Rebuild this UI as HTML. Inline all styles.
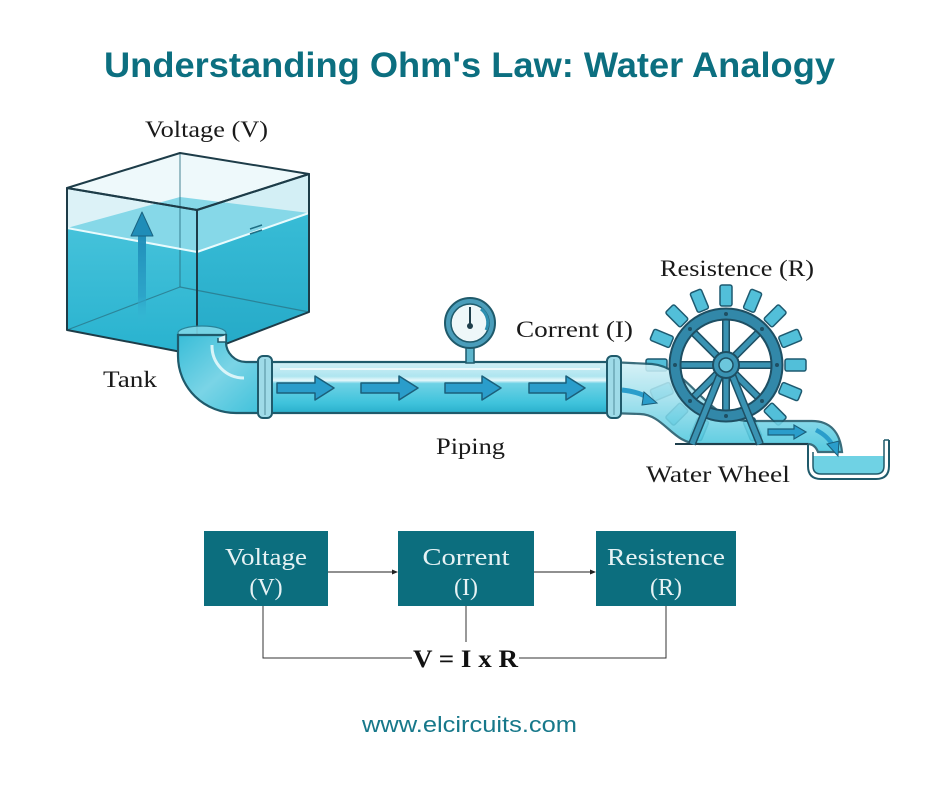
<!DOCTYPE html>
<html><head><meta charset="utf-8"><style>
html,body{margin:0;padding:0;background:#fff;}
svg{display:block;}
</style></head><body>
<svg width="940" height="788" viewBox="0 0 940 788" xmlns="http://www.w3.org/2000/svg">
<defs>
<linearGradient id="pipeG" x1="0" y1="0" x2="0" y2="1">
 <stop offset="0" stop-color="#d2f0f6"/>
 <stop offset="0.28" stop-color="#aee5f0"/>
 <stop offset="0.36" stop-color="#e8f8fb"/>
 <stop offset="0.42" stop-color="#6fd2e5"/>
 <stop offset="0.8" stop-color="#3fc3dc"/>
 <stop offset="1" stop-color="#2ab0cc"/>
</linearGradient>
<linearGradient id="pipeG2" x1="0" y1="0" x2="0" y2="1">
 <stop offset="0" stop-color="#d2f0f6"/>
 <stop offset="0.4" stop-color="#9ee0ed"/>
 <stop offset="1" stop-color="#3fc3dc"/>
</linearGradient>
<linearGradient id="elbowG" x1="0" y1="0" x2="1" y2="1">
 <stop offset="0" stop-color="#38bdd8"/>
 <stop offset="0.5" stop-color="#7ad4e6"/>
 <stop offset="1" stop-color="#3cc0da"/>
</linearGradient>
<linearGradient id="waterF" x1="0" y1="0" x2="0" y2="1">
 <stop offset="0" stop-color="#45c2da"/>
 <stop offset="1" stop-color="#28b2cf"/>
</linearGradient>
<linearGradient id="waterR" x1="0" y1="0" x2="0" y2="1">
 <stop offset="0" stop-color="#38bcd6"/>
 <stop offset="1" stop-color="#24a9c7"/>
</linearGradient>
<linearGradient id="upArrow" x1="0" y1="0" x2="0" y2="1">
 <stop offset="0" stop-color="#1f8db8"/>
 <stop offset="0.7" stop-color="#2a9fc6" stop-opacity="0.8"/>
 <stop offset="1" stop-color="#3ab8d4" stop-opacity="0"/>
</linearGradient>
</defs>

<rect width="940" height="788" fill="#ffffff"/>

<!-- Title -->
<text x="104" y="77" font-family="Liberation Sans, sans-serif" font-weight="bold" font-size="35" fill="#0c6f80" textLength="731" lengthAdjust="spacingAndGlyphs">Understanding Ohm's Law: Water Analogy</text>

<!-- Labels -->
<g font-family="Liberation Serif, serif" font-size="23" fill="#1a1a1a">
<text x="145" y="137" textLength="123" lengthAdjust="spacingAndGlyphs">Voltage (V)</text>
<text x="103" y="387" textLength="54" lengthAdjust="spacingAndGlyphs">Tank</text>
<text x="516" y="337" textLength="117" lengthAdjust="spacingAndGlyphs">Corrent (I)</text>
<text x="436" y="454" textLength="69" lengthAdjust="spacingAndGlyphs">Piping</text>
<text x="660" y="276" textLength="154" lengthAdjust="spacingAndGlyphs">Resistence (R)</text>
<text x="646" y="482" textLength="144" lengthAdjust="spacingAndGlyphs">Water Wheel</text>
</g>

<!-- TANK -->
<g stroke-linejoin="round">
 <polygon points="67,188 197,210 197,355 67,330" fill="#dcf2f7"/>
 <polygon points="197,210 309,174 309,312 197,355" fill="#d3eff5"/>
 <polygon points="67,188 180,153 309,174 197,210" fill="#eef9fb"/>
 <polygon points="67,228 180,197 309,213 197,252" fill="#86d8e8"/>
 <polygon points="67,228 197,252 197,355 67,330" fill="url(#waterF)"/>
 <polygon points="197,252 309,213 309,312 197,355" fill="url(#waterR)"/>
 <polyline points="180,153 180,287" fill="none" stroke="#2a6f80" stroke-width="1.2" opacity="0.7"/>
 <polyline points="67,330 180,287 309,312" fill="none" stroke="#2a6f80" stroke-width="1.2" opacity="0.7"/>
 <polyline points="67,228 197,252 309,213" fill="none" stroke="#e9fbfd" stroke-width="2"/>
 <line x1="250" y1="229" x2="262" y2="225" stroke="#1e6f85" stroke-width="1.5"/>
 <line x1="250" y1="234" x2="262" y2="230" stroke="#1e6f85" stroke-width="1.5"/>
 <rect x="138" y="232" width="8" height="92" fill="url(#upArrow)"/>
 <polygon points="131,236 142,212 153,236" fill="#1f8db8" stroke="#1a6482" stroke-width="1"/>
 <polygon points="67,188 180,153 309,174 197,210" fill="none" stroke="#1d3c48" stroke-width="2"/>
 <polygon points="67,188 197,210 197,355 67,330" fill="none" stroke="#1d3c48" stroke-width="2"/>
 <polygon points="197,210 309,174 309,312 197,355" fill="none" stroke="#1d3c48" stroke-width="2"/>
 <ellipse cx="202" cy="333" rx="24" ry="7" fill="#7fd8e8" stroke="#2a7f94" stroke-width="1.2" opacity="0.9"/>
</g>

<!-- Elbow -->
<path d="M178,335 L178,356 A58,57 0 0 0 236,413 L266,413 L266,362 L246,362 A20,20 0 0 1 226,342 L226,335 Z" fill="url(#elbowG)" stroke="#1f5a6b" stroke-width="2.2"/>
<path d="M212,345 A32,32 0 0 0 244,378" fill="none" stroke="#e6f8fb" stroke-width="3" opacity="0.9"/>
<path d="M226,335 L226,342 L218,342 L218,338" fill="#dff3f7" stroke="#1f5a6b" stroke-width="1.5"/>

<!-- Main pipe -->
<rect x="266" y="362" width="344" height="51" fill="url(#pipeG)" stroke="#1f5a6b" stroke-width="2.2"/>
<line x1="280" y1="369" x2="600" y2="369" stroke="#ffffff" stroke-width="2" opacity="0.7"/>

<!-- Gauge -->
<rect x="466" y="346" width="8" height="17" fill="#5db5cc" stroke="#1f5a6b" stroke-width="1.5"/>
<circle cx="470" cy="323" r="25" fill="#4a9dba" stroke="#1f5a6b" stroke-width="2"/>
<circle cx="470" cy="323" r="19" fill="#eef7f9" stroke="#1f5a6b" stroke-width="1.5"/>
<path d="M481,309 A17,17 0 0 1 486,330" fill="none" stroke="#2d8fb0" stroke-width="3"/>
<line x1="470" y1="325" x2="470" y2="307" stroke="#1f3f4c" stroke-width="2"/>
<circle cx="470" cy="326" r="3" fill="#1f3f4c"/>

<!-- Pipe arrows -->
<g fill="#2a9dcb" stroke="#1b5f7a" stroke-width="1.5" stroke-linejoin="round">
 <polygon points="277,383 315,383 315,376 334,388 315,400 315,393 277,393"/>
 <polygon points="361,383 399,383 399,376 418,388 399,400 399,393 361,393"/>
 <polygon points="445,383 482,383 482,376 501,388 482,400 482,393 445,393"/>
 <polygon points="529,383 566,383 566,376 585,388 566,400 566,393 529,393"/>
</g>

<!-- Wheel paddles -->
<g fill="#52bfd9" stroke="#1e5a70" stroke-width="1.5">
 <rect x="720" y="285" width="12" height="21" rx="2" transform="rotate(0 726 365)"/>
 <rect x="720" y="285" width="12" height="21" rx="2" transform="rotate(22.5 726 365)"/>
 <rect x="720" y="285" width="12" height="21" rx="2" transform="rotate(45 726 365)"/>
 <rect x="720" y="285" width="12" height="21" rx="2" transform="rotate(67.5 726 365)"/>
 <rect x="720" y="285" width="12" height="21" rx="2" transform="rotate(90 726 365)"/>
 <rect x="720" y="285" width="12" height="21" rx="2" transform="rotate(112.5 726 365)"/>
 <rect x="720" y="285" width="12" height="21" rx="2" transform="rotate(135 726 365)"/>
 <rect x="720" y="285" width="12" height="21" rx="2" transform="rotate(157.5 726 365)"/>
 <rect x="720" y="285" width="12" height="21" rx="2" transform="rotate(202.5 726 365)"/>
 <rect x="720" y="285" width="12" height="21" rx="2" transform="rotate(225 726 365)"/>
 <rect x="720" y="285" width="12" height="21" rx="2" transform="rotate(247.5 726 365)"/>
 <rect x="720" y="285" width="12" height="21" rx="2" transform="rotate(270 726 365)"/>
 <rect x="720" y="285" width="12" height="21" rx="2" transform="rotate(292.5 726 365)"/>
 <rect x="720" y="285" width="12" height="21" rx="2" transform="rotate(315 726 365)"/>
 <rect x="720" y="285" width="12" height="21" rx="2" transform="rotate(337.5 726 365)"/>
</g>

<!-- Lower pipe (after coupling) -->
<path d="M610,362 L652,364 C690,367 705,421 750,421 L812,421 C830,421 840,432 842,452 L818,452 C816,447 813,444 808,444 L700,444 C672,444 665,415 640,414 L610,413 Z" fill="url(#pipeG2)" stroke="#1f5a6b" stroke-width="2.2" opacity="0.88"/>
<line x1="675" y1="444" x2="808" y2="444" stroke="#1f3f4c" stroke-width="2"/>

<!-- Basin -->
<path d="M813,456 L884,456 L884,468 Q884,474 877,474 L820,474 Q813,474 813,468 Z" fill="#6fd2e4"/>
<path d="M808,444 L808,466 Q808,479 821,479 L876,479 Q889,479 889,466 L889,440" fill="none" stroke="#1f5a6b" stroke-width="2"/>
<path d="M813,452 L813,466 Q813,474 821,474 L876,474 Q884,474 884,466 L884,440" fill="none" stroke="#1f5a6b" stroke-width="1.5"/>
<path d="M884,440 L889,440" stroke="#1f5a6b" stroke-width="1.5"/>

<!-- Couplings -->
<rect x="258" y="356" width="14" height="62" rx="5" fill="#9fdbe8" stroke="#1f5a6b" stroke-width="2"/>
<line x1="265" y1="359" x2="265" y2="415" stroke="#1f5a6b" stroke-width="1" opacity="0.6"/>
<rect x="607" y="356" width="14" height="62" rx="5" fill="#9fdbe8" stroke="#1f5a6b" stroke-width="2"/>
<line x1="614" y1="359" x2="614" y2="415" stroke="#1f5a6b" stroke-width="1" opacity="0.6"/>

<!-- flow arrows after coupling -->
<path d="M622,390 Q640,392 648,398" fill="none" stroke="#2a9dcb" stroke-width="5"/>
<polygon points="644,392 657,403 642,405" fill="#2a9dcb" stroke="#1b5f7a" stroke-width="1"/>
<g fill="#2a9dcb" stroke="#1b5f7a" stroke-width="1.2">
 <polygon points="768,429 794,429 794,425 806,432 794,439 794,435 768,435"/>
</g>
<path d="M816,430 Q828,436 833,446" fill="none" stroke="#2a9dcb" stroke-width="4.5"/>
<polygon points="827,444 838,456 839,441" fill="#2a9dcb" stroke="#1b5f7a" stroke-width="1"/>

<!-- Wheel rim, spokes, hub -->
<g stroke-linecap="round">
 <g stroke="#1e4f63" stroke-width="8">
  <line x1="726" y1="365" x2="726" y2="316"/>
  <line x1="726" y1="365" x2="726" y2="414"/>
  <line x1="726" y1="365" x2="677" y2="365"/>
  <line x1="726" y1="365" x2="775" y2="365"/>
  <line x1="726" y1="365" x2="691" y2="330"/>
  <line x1="726" y1="365" x2="761" y2="330"/>
  <line x1="726" y1="365" x2="691" y2="400"/>
  <line x1="726" y1="365" x2="761" y2="400"/>
 </g>
 <g stroke="#3a93b3" stroke-width="5">
  <line x1="726" y1="365" x2="726" y2="316"/>
  <line x1="726" y1="365" x2="726" y2="414"/>
  <line x1="726" y1="365" x2="677" y2="365"/>
  <line x1="726" y1="365" x2="775" y2="365"/>
  <line x1="726" y1="365" x2="691" y2="330"/>
  <line x1="726" y1="365" x2="761" y2="330"/>
  <line x1="726" y1="365" x2="691" y2="400"/>
  <line x1="726" y1="365" x2="761" y2="400"/>
 </g>
</g>
<circle cx="726" cy="365" r="51" fill="none" stroke="#1e4f63" stroke-width="13"/>
<circle cx="726" cy="365" r="51" fill="none" stroke="#3288a9" stroke-width="9"/>
<g fill="#1e4f63">
 <circle cx="726" cy="314" r="2"/><circle cx="726" cy="416" r="2"/>
 <circle cx="675" cy="365" r="2"/><circle cx="777" cy="365" r="2"/>
 <circle cx="690" cy="329" r="2"/><circle cx="762" cy="329" r="2"/>
 <circle cx="690" cy="401" r="2"/><circle cx="762" cy="401" r="2"/>
</g>
<g stroke-linecap="butt">
 <line x1="722" y1="370" x2="692" y2="444" stroke="#1e4f63" stroke-width="8"/>
 <line x1="722" y1="370" x2="692" y2="444" stroke="#3a93b3" stroke-width="5"/>
 <line x1="730" y1="370" x2="760" y2="444" stroke="#1e4f63" stroke-width="8"/>
 <line x1="730" y1="370" x2="760" y2="444" stroke="#3a93b3" stroke-width="5"/>
</g>
<circle cx="726" cy="365" r="13" fill="#3a93b3" stroke="#1e4f63" stroke-width="2"/>
<circle cx="726" cy="365" r="7" fill="#6cc7dd" stroke="#1e4f63" stroke-width="1.5"/>

<!-- Bottom diagram -->
<rect x="204" y="531" width="124" height="75" fill="#0c6e7e"/>
<rect x="398" y="531" width="136" height="75" fill="#0c6e7e"/>
<rect x="596" y="531" width="140" height="75" fill="#0c6e7e"/>
<g font-family="Liberation Serif, serif" font-size="24" fill="#e6f2f4" text-anchor="middle">
 <text x="266" y="565" textLength="82" lengthAdjust="spacingAndGlyphs">Voltage</text>
 <text x="266" y="595">(V)</text>
 <text x="466" y="565" textLength="87" lengthAdjust="spacingAndGlyphs">Corrent</text>
 <text x="466" y="595">(I)</text>
 <text x="666" y="565" textLength="118" lengthAdjust="spacingAndGlyphs">Resistence</text>
 <text x="666" y="595">(R)</text>
</g>
<line x1="328" y1="572" x2="394" y2="572" stroke="#222" stroke-width="1"/>
<polygon points="392,569.5 398,572 392,574.5" fill="#222"/>
<line x1="534" y1="572" x2="592" y2="572" stroke="#222" stroke-width="1"/>
<polygon points="590,569.5 596,572 590,574.5" fill="#222"/>
<polyline points="263,606 263,658 412,658" fill="none" stroke="#333" stroke-width="1"/>
<polyline points="519,658 666,658 666,606" fill="none" stroke="#333" stroke-width="1"/>
<line x1="466" y1="606" x2="466" y2="642" stroke="#777" stroke-width="1.5"/>
<text x="413" y="667" font-family="Liberation Serif, serif" font-weight="bold" font-size="25" fill="#111" textLength="105" lengthAdjust="spacingAndGlyphs">V = I x R</text>

<!-- Footer -->
<text x="362" y="732" font-family="Liberation Sans, sans-serif" font-size="22" fill="#17788a" textLength="215" lengthAdjust="spacingAndGlyphs">www.elcircuits.com</text>
</svg>
</body></html>
